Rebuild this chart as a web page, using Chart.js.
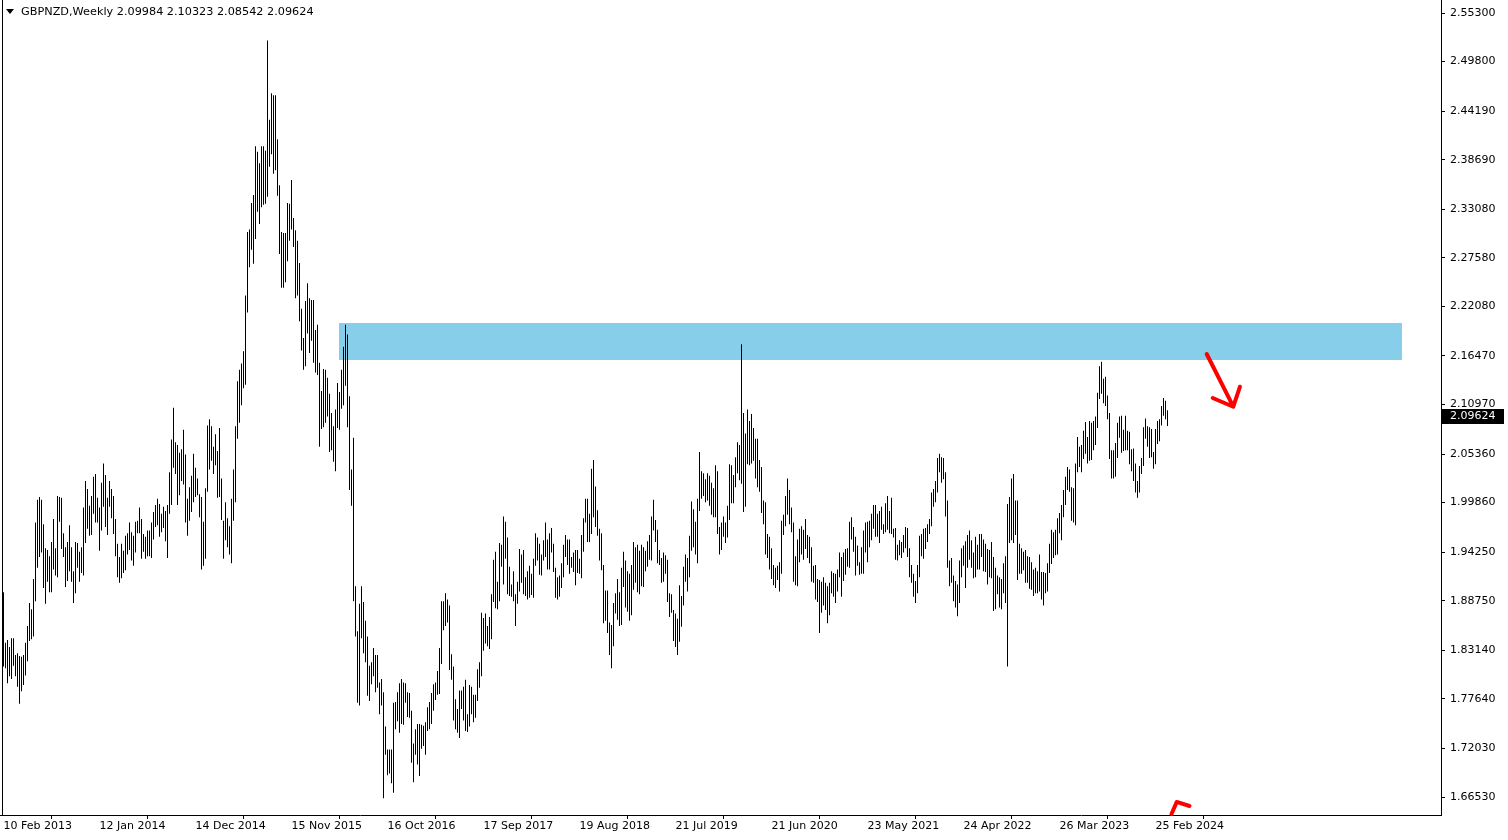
<!DOCTYPE html>
<html><head><meta charset="utf-8">
<style>html,body{margin:0;padding:0;background:#fff;}canvas{display:block;}</style>
<script src="https://cdn.jsdelivr.net/npm/chart.js@4.4.1/dist/chart.umd.min.js"></script>
</head><body>
<canvas id="c" width="1508" height="840"></canvas>
<script>
// ---------- data ----------
const chartTitle = 'GBPNZD,Weekly';
const lastOHLC = [2.09984, 2.10323, 2.08542, 2.09624];
const xTickIndex = [0,48,96,144,192,240,288,336,384,432,480,528,576];
const xTickLabels = ['10 Feb 2013','12 Jan 2014','14 Dec 2014','15 Nov 2015','16 Oct 2016','17 Sep 2017','19 Aug 2018','21 Jul 2019','21 Jun 2020','23 May 2021','24 Apr 2022','26 Mar 2023','25 Feb 2024'];
const yTickValues = [2.55300,2.49800,2.44190,2.38690,2.33080,2.27580,2.22080,2.16470,2.10970,2.05360,1.99860,1.94250,1.88750,1.83140,1.77640,1.72030,1.66530];
const barHighs = [
1.897,1.840,1.843,1.835,1.845,1.845,1.826,1.828,1.825,1.824,1.826,1.840,1.859,1.885,1.878,1.912,1.976,2.002,2.005,2.002,1.974,1.947,1.945,1.938,1.954,1.980,1.947,2.006,2.005,2.004,1.964,1.948,1.954,1.973,1.948,1.921,1.954,1.953,1.943,1.948,1.993,2.023,2.014,1.995,2.006,2.028,2.031,2.004,1.993,
2.021,2.043,2.030,2.004,2.023,2.014,2.006,1.980,1.952,1.937,1.952,1.944,1.961,1.964,1.976,1.965,1.961,1.977,1.978,1.993,1.980,1.963,1.960,1.967,1.967,1.976,1.988,1.996,2.003,1.997,1.986,1.994,1.989,1.996,2.033,2.070,2.106,2.067,2.064,2.055,2.059,2.081,2.053,2.003,2.016,2.029,2.054,2.038,2.026,2.008,
2.005,1.977,2.015,2.086,2.093,2.085,2.062,2.076,2.057,2.083,2.026,1.978,1.999,1.981,1.972,2.003,2.036,2.085,2.136,2.149,2.156,2.170,2.233,2.305,2.308,2.338,2.347,2.402,2.396,2.383,2.402,2.402,2.397,2.522,2.432,2.462,2.460,2.460,2.410,2.358,2.305,2.304,2.304,2.338,2.337,2.364,2.321,2.307,2.295,2.270,
2.218,2.185,2.227,2.247,2.230,2.228,2.228,2.194,2.200,2.157,2.125,2.150,2.149,2.140,2.122,2.100,2.085,2.104,2.134,2.124,2.149,2.175,2.200,2.189,2.119,2.036,2.072,1.904,1.853,1.884,1.904,1.886,1.865,1.847,1.814,1.818,1.834,1.826,1.826,1.795,1.799,1.784,1.745,1.719,1.719,1.719,1.772,1.773,1.784,1.794,
1.799,1.795,1.794,1.784,1.783,1.763,1.726,1.742,1.748,1.748,1.747,1.746,1.750,1.767,1.773,1.783,1.793,1.795,1.808,1.834,1.887,1.887,1.896,1.889,1.882,1.827,1.813,1.776,1.765,1.786,1.786,1.790,1.798,1.759,1.792,1.790,1.781,1.781,1.810,1.818,1.874,1.868,1.873,1.859,1.869,1.895,1.934,1.943,1.909,1.953,
1.951,1.983,1.977,1.959,1.926,1.906,1.921,1.895,1.909,1.946,1.940,1.945,1.914,1.921,1.927,1.918,1.935,1.964,1.959,1.952,1.940,1.956,1.976,1.957,1.964,1.970,1.952,1.925,1.914,1.916,1.930,1.951,1.962,1.957,1.957,1.937,1.942,1.945,1.945,1.935,1.962,1.981,2.003,2.003,1.986,2.037,2.047,2.017,1.990,1.969,
1.964,1.928,1.899,1.899,1.863,1.860,1.885,1.896,1.912,1.897,1.925,1.943,1.933,1.921,1.918,1.928,1.954,1.948,1.951,1.944,1.951,1.948,1.944,1.955,1.962,1.983,2.002,1.979,1.968,1.945,1.936,1.942,1.939,1.934,1.896,1.895,1.877,1.873,1.867,1.905,1.893,1.926,1.940,1.936,1.961,2.000,1.991,1.977,2.003,2.056,
2.034,2.032,2.025,2.032,2.029,2.021,2.015,2.041,2.034,1.971,1.976,1.983,1.976,1.995,2.042,2.041,2.030,2.050,2.067,2.064,2.178,2.100,2.077,2.104,2.091,2.099,2.083,2.071,2.071,2.047,2.039,2.001,1.999,1.963,1.960,1.947,1.928,1.925,1.927,1.931,1.978,1.985,2.006,2.026,2.013,1.993,1.976,1.938,1.957,1.969,
1.972,1.968,1.980,1.962,1.960,1.948,1.927,1.928,1.912,1.911,1.909,1.914,1.908,1.904,1.908,1.921,1.919,1.918,1.923,1.942,1.937,1.942,1.946,1.947,1.977,1.982,1.971,1.960,1.950,1.931,1.948,1.967,1.976,1.977,1.978,1.986,1.996,1.996,1.986,1.989,1.994,1.974,1.998,2.006,1.989,2.004,1.969,1.970,1.951,1.956,
1.954,1.962,1.971,1.970,1.947,1.928,1.918,1.910,1.928,1.961,1.963,1.969,1.970,1.974,1.980,2.010,2.014,2.023,2.049,2.054,2.050,2.049,2.033,2.001,1.933,1.936,1.916,1.910,1.906,1.933,1.947,1.950,1.955,1.962,1.967,1.956,1.942,1.960,1.951,1.963,1.963,1.957,1.952,1.946,1.945,1.954,1.937,1.925,1.916,1.914,
1.912,1.930,1.938,1.997,2.005,2.026,2.031,2.001,2.001,1.952,1.947,1.943,1.945,1.938,1.937,1.931,1.923,1.925,1.921,1.940,1.920,1.920,1.919,1.930,1.952,1.968,1.965,1.968,1.981,1.987,1.996,2.013,2.028,2.039,2.036,2.016,2.015,2.043,2.073,2.062,2.064,2.080,2.090,2.073,2.091,2.089,2.091,2.096,2.123,2.153,
2.158,2.139,2.141,2.120,2.100,2.058,2.058,2.066,2.089,2.096,2.097,2.081,2.097,2.080,2.079,2.059,2.060,2.043,2.023,2.040,2.049,2.084,2.094,2.085,2.084,2.082,2.056,2.082,2.091,2.093,2.108,2.117,2.114,2.10323
];
const barLows = [
1.813,1.811,1.794,1.802,1.799,1.814,1.802,1.790,1.771,1.785,1.792,1.803,1.819,1.842,1.844,1.847,1.887,1.925,1.937,1.942,1.902,1.884,1.909,1.897,1.897,1.923,1.916,1.914,1.977,1.946,1.937,1.903,1.910,1.921,1.909,1.885,1.896,1.925,1.909,1.919,1.916,1.953,1.969,1.961,1.962,1.986,1.976,1.976,1.944,
1.967,1.994,1.971,1.962,1.994,1.981,1.963,1.938,1.914,1.908,1.913,1.919,1.922,1.940,1.945,1.933,1.927,1.942,1.964,1.964,1.935,1.943,1.935,1.938,1.938,1.936,1.957,1.971,1.973,1.960,1.965,1.970,1.955,1.936,1.986,1.996,2.038,2.031,1.996,2.007,2.023,2.019,1.976,1.961,1.978,1.988,1.999,2.005,2.007,1.982,
1.923,1.927,1.935,2.011,2.036,2.046,2.031,2.041,2.004,2.005,1.979,1.935,1.956,1.948,1.940,1.930,1.978,1.999,2.071,2.089,2.109,2.128,2.132,2.214,2.265,2.285,2.269,2.297,2.328,2.314,2.333,2.336,2.337,2.345,2.379,2.393,2.371,2.375,2.346,2.280,2.242,2.242,2.248,2.272,2.295,2.308,2.288,2.230,2.233,2.204,
2.171,2.149,2.153,2.190,2.168,2.182,2.157,2.146,2.143,2.062,2.082,2.084,2.089,2.096,2.056,2.058,2.045,2.034,2.083,2.081,2.105,2.109,2.131,2.084,2.013,1.995,1.887,1.847,1.772,1.769,1.845,1.828,1.818,1.780,1.774,1.793,1.802,1.784,1.789,1.759,1.769,1.664,1.713,1.690,1.692,1.681,1.670,1.742,1.751,1.738,
1.748,1.747,1.772,1.756,1.755,1.704,1.682,1.713,1.702,1.689,1.720,1.723,1.713,1.740,1.742,1.748,1.763,1.775,1.781,1.782,1.816,1.854,1.859,1.863,1.809,1.798,1.752,1.742,1.738,1.732,1.765,1.752,1.740,1.739,1.745,1.759,1.750,1.755,1.774,1.789,1.802,1.831,1.839,1.836,1.833,1.844,1.886,1.879,1.878,1.887,
1.926,1.906,1.935,1.895,1.893,1.892,1.887,1.859,1.884,1.898,1.908,1.895,1.893,1.889,1.891,1.894,1.891,1.927,1.933,1.917,1.916,1.933,1.937,1.923,1.923,1.942,1.920,1.891,1.889,1.892,1.902,1.914,1.937,1.928,1.918,1.925,1.920,1.905,1.919,1.918,1.913,1.943,1.976,1.954,1.954,1.963,1.982,1.971,1.961,1.933,
1.922,1.862,1.865,1.851,1.826,1.811,1.836,1.873,1.866,1.859,1.860,1.903,1.880,1.875,1.865,1.871,1.900,1.908,1.897,1.895,1.904,1.903,1.921,1.926,1.934,1.933,1.967,1.954,1.930,1.928,1.908,1.909,1.918,1.886,1.869,1.874,1.842,1.835,1.826,1.841,1.858,1.882,1.909,1.898,1.914,1.944,1.948,1.940,1.930,1.989,
2.003,2.006,1.999,2.001,1.995,1.985,1.982,1.982,1.963,1.940,1.945,1.960,1.953,1.959,1.979,1.998,1.998,2.016,2.032,2.024,2.020,1.988,1.994,2.042,2.041,2.043,2.046,2.026,2.016,2.011,1.987,1.974,1.940,1.936,1.923,1.912,1.905,1.902,1.911,1.898,1.918,1.962,1.972,1.985,1.974,1.965,1.909,1.905,1.904,1.931,
1.940,1.934,1.946,1.936,1.930,1.909,1.908,1.889,1.886,1.851,1.874,1.882,1.877,1.862,1.871,1.896,1.892,1.885,1.898,1.914,1.892,1.910,1.917,1.926,1.925,1.957,1.943,1.916,1.927,1.917,1.918,1.918,1.942,1.931,1.948,1.956,1.969,1.960,1.960,1.953,1.968,1.963,1.965,1.968,1.964,1.963,1.959,1.934,1.933,1.939,
1.936,1.942,1.947,1.937,1.914,1.908,1.892,1.885,1.896,1.914,1.938,1.935,1.946,1.954,1.963,1.972,1.994,1.999,2.010,2.033,2.021,2.025,1.983,1.925,1.904,1.908,1.887,1.880,1.870,1.885,1.914,1.927,1.902,1.925,1.934,1.925,1.913,1.914,1.923,1.923,1.937,1.921,1.920,1.906,1.914,1.913,1.876,1.878,1.895,1.880,
1.878,1.896,1.885,1.813,1.953,1.956,1.953,1.962,1.911,1.918,1.918,1.922,1.908,1.908,1.901,1.900,1.893,1.896,1.896,1.898,1.889,1.882,1.896,1.898,1.919,1.929,1.936,1.939,1.940,1.964,1.956,1.982,1.996,2.013,2.011,1.978,1.976,1.973,2.033,2.039,2.033,2.048,2.054,2.043,2.046,2.047,2.058,2.064,2.083,2.116,
2.122,2.111,2.108,2.093,2.048,2.026,2.026,2.028,2.049,2.072,2.055,2.057,2.058,2.058,2.042,2.034,2.023,2.010,2.004,2.010,2.031,2.040,2.071,2.062,2.049,2.050,2.037,2.042,2.065,2.068,2.086,2.097,2.093,2.08542
];
// resistance zone: bar-index span and price span
const zoneBars = [167.75, 699.25];
const zonePrices = [2.2020, 2.1601];
// hand-drawn red arrows, in [bar index, price]
const arrowShaft = [[601.6, 2.1669], [614.9, 2.1072]];
const arrowWings = [[604.6, 2.1171], [618.2, 2.1298]];
const arrowBottom = [[584.0, 1.6461], [586.6, 1.6597], [593.0, 1.6551]];

// ---------- chart ----------
const FONT = '11px "DejaVu Sans", sans-serif';
const TITLE_FONT = '11.25px "DejaVu Sans", sans-serif';
const bars = barHighs.map((h, i) => ({x: i, y: [barLows[i], h]}));

const overlay = {
  id: 'overlay',
  beforeDatasetsDraw(chart) {
    const {ctx, scales: {x, y}} = chart;
    const x0 = x.getPixelForValue(zoneBars[0]), x1 = x.getPixelForValue(zoneBars[1]);
    const y0 = y.getPixelForValue(zonePrices[0]), y1 = y.getPixelForValue(zonePrices[1]);
    ctx.save();
    ctx.fillStyle = '#87CEEB';
    ctx.fillRect(x0, y0, x1 - x0, y1 - y0);
    ctx.restore();
  },
  afterDatasetsDraw(chart) {
    const {ctx, scales: {x, y}} = chart;
    const P = p => [x.getPixelForValue(p[0]), y.getPixelForValue(p[1])];
    ctx.save();
    ctx.strokeStyle = '#FF0000';
    ctx.lineWidth = 4;
    ctx.lineCap = 'round';
    ctx.lineJoin = 'round';
    const tip = P(arrowShaft[1]);
    ctx.beginPath();
    let s = P(arrowShaft[0]); ctx.moveTo(s[0], s[1]); ctx.lineTo(tip[0], tip[1]);
    let w = P(arrowWings[0]); ctx.moveTo(w[0], w[1]); ctx.lineTo(tip[0], tip[1]);
    w = P(arrowWings[1]); ctx.moveTo(w[0], w[1]); ctx.lineTo(tip[0], tip[1]);
    ctx.stroke();
    ctx.beginPath();
    arrowBottom.forEach((p, i) => { const q = P(p); if (i) ctx.lineTo(q[0], q[1]); else ctx.moveTo(q[0], q[1]); });
    ctx.stroke();
    ctx.restore();
  },
  afterDraw(chart) {
    const {ctx, chartArea, scales: {y}} = chart;
    ctx.save();
    // left frame
    ctx.fillStyle = '#000';
    ctx.fillRect(2, 0, 1, chartArea.bottom);
    // title
    ctx.beginPath();
    ctx.moveTo(6, 9); ctx.lineTo(14, 9); ctx.lineTo(10, 14); ctx.closePath();
    ctx.fill();
    ctx.font = TITLE_FONT;
    ctx.textBaseline = 'middle';
    ctx.textAlign = 'left';
    ctx.fillText(chartTitle + ' ' + lastOHLC.map(v => v.toFixed(5)).join(' '), 21, 12);
    // current price label
    ctx.font = FONT;
    const py = Math.round(y.getPixelForValue(lastOHLC[3]));
    ctx.fillStyle = '#000';
    ctx.fillRect(chartArea.right + 1, py - 7, 62, 15);
    ctx.fillStyle = '#fff';
    ctx.fillText(lastOHLC[3].toFixed(5), chartArea.right + 9, py + 0.5);
    ctx.restore();
  }
};

new Chart(document.getElementById('c'), {
  type: 'bar',
  data: {datasets: [{
    data: bars,
    backgroundColor: '#000',
    borderWidth: 0,
    barThickness: 1,
    inflateAmount: 0,
    borderSkipped: false
  }]},
  options: {
    responsive: false,
    devicePixelRatio: 1,
    animation: false,
    events: [],
    layout: {padding: 0, autoPadding: false},
    plugins: {legend: {display: false}, tooltip: {enabled: false}},
    scales: {
      x: {
        type: 'linear',
        min: -1.75, max: 718.75,
        offset: false,
        bounds: 'data',
        afterBuildTicks: s => { s.ticks = xTickIndex.map(v => ({value: v})); },
        afterFit: s => { s.height = 25; s.paddingLeft = 0; s.paddingRight = 0; },
        grid: {drawOnChartArea: false, drawTicks: true, tickLength: 4, color: '#000'},
        border: {display: true, color: '#000', width: 1},
        ticks: {
          autoSkip: false, maxRotation: 0, minRotation: 0, align: 'start', labelOffset: 0, padding: 1,
          color: '#000', font: {family: '"DejaVu Sans", sans-serif', size: 11},
          callback: v => xTickLabels[xTickIndex.indexOf(v)]
        }
      },
      y: {
        type: 'linear',
        position: 'right',
        min: 1.64492, max: 2.56772,
        bounds: 'data',
        afterBuildTicks: s => { s.ticks = yTickValues.map(v => ({value: v})); },
        afterFit: s => { s.width = 67; s.paddingTop = 0; s.paddingBottom = 0; },
        grid: {drawOnChartArea: false, drawTicks: true, tickLength: 4, color: '#000'},
        border: {display: true, color: '#000', width: 1},
        ticks: {
          padding: 5, color: '#000', font: {family: '"DejaVu Sans", sans-serif', size: 11},
          callback: v => v.toFixed(5)
        }
      }
    }
  },
  plugins: [overlay]
});
</script>
</body></html>
